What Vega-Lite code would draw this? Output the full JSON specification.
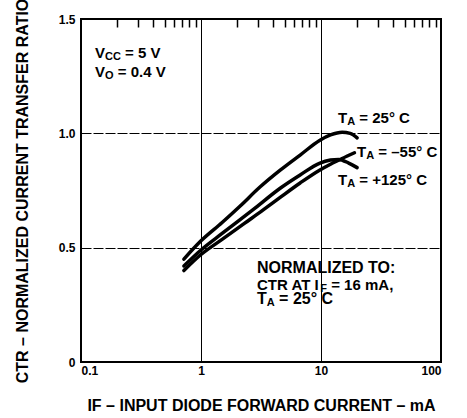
{
  "$schema": "https://vega.github.io/schema/vega-lite/v6.json",
  "width": 360,
  "height": 343,
  "autosize": "none",
  "padding": {"left": 81, "top": 19, "right": 26, "bottom": 56},
  "background": "white",
  "config": {
    "view": {"stroke": "black", "strokeWidth": 2},
    "font": "Liberation Sans",
    "axis": {
      "labelFont": "Liberation Sans", "labelFontWeight": "bold", "labelFontSize": 12, "labelColor": "black",
      "titleFont": "Liberation Sans", "titleFontWeight": "bold", "titleFontSize": 16, "titleColor": "black",
      "gridColor": "black", "gridOpacity": 1, "gridWidth": 1, "domain": false, "ticks": false
    }
  },
  "resolve": {"axis": {"x": "independent"}},
  "datasets": {
    "curves": [
      {"series": "25", "mA": 0.72, "ctr": 0.45}, {"series": "25", "mA": 1.0, "ctr": 0.53}, {"series": "25", "mA": 1.5, "ctr": 0.61},
      {"series": "25", "mA": 2.1, "ctr": 0.68}, {"series": "25", "mA": 3.1, "ctr": 0.765}, {"series": "25", "mA": 4.6, "ctr": 0.84},
      {"series": "25", "mA": 6.7, "ctr": 0.905}, {"series": "25", "mA": 9.8, "ctr": 0.97}, {"series": "25", "mA": 12, "ctr": 0.993},
      {"series": "25", "mA": 15, "ctr": 1.005}, {"series": "25", "mA": 17.5, "ctr": 1.0}, {"series": "25", "mA": 20, "ctr": 0.98},
      {"series": "125", "mA": 0.72, "ctr": 0.42}, {"series": "125", "mA": 1.0, "ctr": 0.49}, {"series": "125", "mA": 1.5, "ctr": 0.562},
      {"series": "125", "mA": 2.7, "ctr": 0.665}, {"series": "125", "mA": 4.6, "ctr": 0.761}, {"series": "125", "mA": 6.7, "ctr": 0.818},
      {"series": "125", "mA": 9.8, "ctr": 0.87}, {"series": "125", "mA": 12, "ctr": 0.883}, {"series": "125", "mA": 14, "ctr": 0.886},
      {"series": "125", "mA": 17, "ctr": 0.87}, {"series": "125", "mA": 20, "ctr": 0.85},
      {"series": "-55", "mA": 0.72, "ctr": 0.4}, {"series": "-55", "mA": 1.0, "ctr": 0.47}, {"series": "-55", "mA": 1.5, "ctr": 0.536},
      {"series": "-55", "mA": 2.3, "ctr": 0.606}, {"series": "-55", "mA": 3.3, "ctr": 0.665}, {"series": "-55", "mA": 4.6, "ctr": 0.721},
      {"series": "-55", "mA": 6.7, "ctr": 0.783}, {"series": "-55", "mA": 9.8, "ctr": 0.84}, {"series": "-55", "mA": 12, "ctr": 0.865},
      {"series": "-55", "mA": 15, "ctr": 0.89}, {"series": "-55", "mA": 19, "ctr": 0.915}
    ],
    "labels15": [
      {"x": 0.13077, "y": 1.351, "t": "V"}, {"x": 0.2331, "y": 1.351, "t": "= 5 V"},
      {"x": 0.13077, "y": 1.268, "t": "V"}, {"x": 0.2026, "y": 1.268, "t": "= 0.4 V"},
      {"x": 13.86, "y": 1.067, "t": "T"}, {"x": 20.85, "y": 1.067, "t": "= 25° C"},
      {"x": 19.953, "y": 0.918, "t": "T"}, {"x": 30.02, "y": 0.918, "t": "= –55° C"},
      {"x": 13.86, "y": 0.796, "t": "T"}, {"x": 20.85, "y": 0.796, "t": "= +125° C"},
      {"x": 2.9286, "y": 0.337, "t": "CTR AT I"}, {"x": 12.16, "y": 0.337, "t": "= 16 mA,"}
    ],
    "labels16": [
      {"x": 2.9286, "y": 0.411, "t": "NORMALIZED TO:"},
      {"x": 2.9286, "y": 0.2755, "t": "T"}, {"x": 4.476, "y": 0.2755, "t": "= 25° C"}
    ],
    "subs": [
      {"x": 0.15849, "y": 1.351, "t": "CC"}, {"x": 0.15849, "y": 1.268, "t": "O"},
      {"x": 16.528, "y": 1.067, "t": "A"}, {"x": 23.8, "y": 0.918, "t": "A"}, {"x": 16.528, "y": 0.796, "t": "A"},
      {"x": 9.867, "y": 0.337, "t": "F"}, {"x": 3.5345, "y": 0.2755, "t": "A"}
    ],
    "minor": [
      {"v": 0.2}, {"v": 0.3}, {"v": 0.4}, {"v": 0.5}, {"v": 0.6}, {"v": 0.7}, {"v": 0.8}, {"v": 0.9},
      {"v": 2}, {"v": 3}, {"v": 4}, {"v": 5}, {"v": 6}, {"v": 7}, {"v": 8}, {"v": 9},
      {"v": 20}, {"v": 30}, {"v": 40}, {"v": 50}, {"v": 60}, {"v": 70}, {"v": 80}, {"v": 90}
    ]
  },
  "layer": [
    {
      "data": {"name": "curves"},
      "mark": {"type": "line", "color": "black", "strokeWidth": 3.5, "interpolate": "monotone", "strokeCap": "round"},
      "encoding": {
        "x": {
          "field": "mA", "type": "quantitative",
          "scale": {"type": "log", "domain": [0.1, 100], "nice": false},
          "axis": {"orient": "bottom", "values": [0.1, 1, 10, 100], "format": "~g", "grid": true,
                   "labelPadding": 3, "titlePadding": 21,
                   "title": "IF – INPUT DIODE FORWARD CURRENT – mA"}
        },
        "y": {
          "field": "ctr", "type": "quantitative",
          "scale": {"domain": [0, 1.5], "nice": false, "zero": false},
          "axis": {"orient": "left", "values": [0, 0.5, 1, 1.5],
                   "labelExpr": "datum.value == 0 ? '0' : format(datum.value, '.1f')",
                   "grid": true, "gridDash": [10, 2], "labelPadding": 6, "titlePadding": 28,
                   "title": "CTR – NORMALIZED CURRENT TRANSFER RATIO"}
        },
        "detail": {"field": "series", "type": "nominal"}
      }
    },
    {
      "data": {"name": "minor"},
      "mark": {"type": "point", "opacity": 0},
      "encoding": {
        "x": {
          "field": "v", "type": "quantitative",
          "axis": {"orient": "top", "values": [0.2, 0.3, 0.4, 0.5, 0.6, 0.7, 0.8, 0.9, 2, 3, 4, 5, 6, 7, 8, 9, 20, 30, 40, 50, 60, 70, 80, 90],
                   "labels": false, "ticks": true, "tickSize": -8, "tickColor": "black", "tickWidth": 1.5,
                   "grid": false, "domain": false, "title": null}
        }
      }
    },
    {
      "data": {"name": "labels15"},
      "mark": {"type": "text", "align": "left", "baseline": "middle", "font": "Liberation Sans", "fontWeight": "bold", "fontSize": 15, "color": "black"},
      "encoding": {
        "x": {"field": "x", "type": "quantitative", "axis": null},
        "y": {"field": "y", "type": "quantitative"},
        "text": {"field": "t"}
      }
    },
    {
      "data": {"name": "labels16"},
      "mark": {"type": "text", "align": "left", "baseline": "middle", "font": "Liberation Sans", "fontWeight": "bold", "fontSize": 16, "color": "black"},
      "encoding": {
        "x": {"field": "x", "type": "quantitative", "axis": null},
        "y": {"field": "y", "type": "quantitative"},
        "text": {"field": "t"}
      }
    },
    {
      "data": {"name": "subs"},
      "mark": {"type": "text", "align": "left", "baseline": "middle", "dy": 4, "font": "Liberation Sans", "fontWeight": "bold", "fontSize": 11, "color": "black"},
      "encoding": {
        "x": {"field": "x", "type": "quantitative", "axis": null},
        "y": {"field": "y", "type": "quantitative"},
        "text": {"field": "t"}
      }
    }
  ]
}
